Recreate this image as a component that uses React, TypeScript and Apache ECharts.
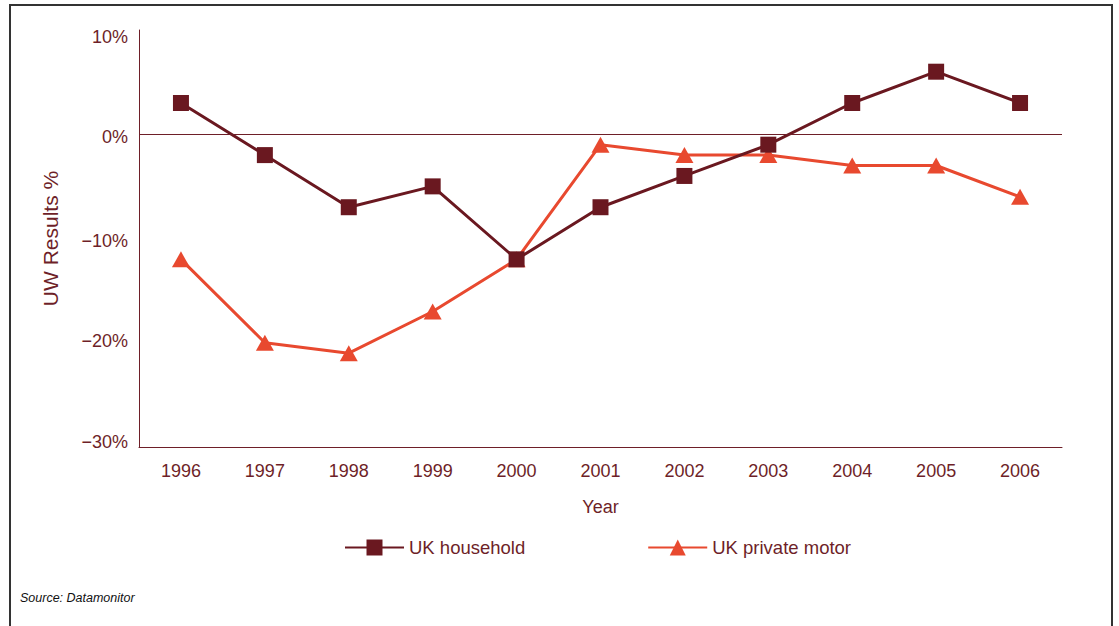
import React, { useEffect, useRef } from "react";
import * as echarts from "echarts";

// Underwriting results by year
const years = ["1996", "1997", "1998", "1999", "2000", "2001", "2002", "2003", "2004", "2005", "2006"];
const householdValues = [3, -2, -7, -5, -12, -7, -4, -1, 3, 6, 3];
const motorValues = [-12, -20, -21, -17, -12, -1, -2, -2, -3, -3, -6];
const seriesNames = ["UK household", "UK private motor"];
const yTicks = [10, 0, -10, -20, -30];

const TEXT = "#6e1f28";
const HOUSEHOLD = "#6a1820";
const MOTOR = "#e8492f";
const FONT = "Liberation Sans, Arial, Helvetica, sans-serif";

// Tick labels sit on a slightly tighter, even spacing than the ticks themselves
const labelNudge: Record<string, number[]> = {
  "10": [14, 0, 0, 0],
  "0": [6, 0, 0, 0],
  "-10": [5, 0, 0, 0],
  "-20": [0, 0, 3, 0],
  "-30": [0, 0, 11, 0],
};

const richStyles: Record<string, any> = {};
yTicks.forEach((t, i) => {
  richStyles["t" + i] = {
    color: TEXT,
    fontSize: 18,
    fontFamily: FONT,
    padding: labelNudge[String(t)],
  };
});

export default function App() {
  const ref = useRef<HTMLDivElement>(null);

  useEffect(() => {
    if (!ref.current) return;
    const chart = echarts.init(ref.current, undefined, { renderer: "svg" });
    chart.setOption({
      animation: false,
      textStyle: { fontFamily: FONT },
      grid: { left: 139, right: 57, top: 30, bottom: 179 },
      xAxis: {
        type: "category",
        data: years,
        boundaryGap: true,
        name: "Year",
        nameLocation: "middle",
        nameGap: 51,
        nameTextStyle: { color: TEXT, fontSize: 18, fontFamily: FONT },
        axisLine: { onZero: false, lineStyle: { color: TEXT, width: 1 } },
        axisTick: { show: false },
        axisLabel: { color: TEXT, fontSize: 18, margin: 15, fontFamily: FONT },
        splitLine: { show: false },
      },
      yAxis: {
        type: "value",
        min: -30,
        max: 10,
        interval: 10,
        name: "UW Results %",
        nameLocation: "middle",
        nameGap: 78,
        nameRotate: 90,
        nameTextStyle: { color: TEXT, fontSize: 21, fontFamily: FONT },
        axisLine: { show: true, lineStyle: { color: TEXT, width: 1 } },
        axisTick: { show: false },
        splitLine: { show: false },
        axisLabel: {
          color: TEXT,
          fontSize: 18,
          margin: 11,
          fontFamily: FONT,
          rich: richStyles,
          formatter: (v: number) => {
            const idx = yTicks.indexOf(v);
            const txt = (v < 0 ? "\u2212" + Math.abs(v) : String(v)) + "%";
            return idx >= 0 ? `{t${idx}|${txt}}` : txt;
          },
        },
      },
      legend: {
        data: seriesNames,
        bottom: 69,
        left: 344,
        padding: 0,
        itemWidth: 59,
        itemHeight: 20,
        itemGap: 122,
        textStyle: { color: TEXT, fontSize: 18.5, fontFamily: FONT },
      },
      graphic: [
        {
          type: "rect",
          shape: { x: 10, y: 5, width: 1102, height: 700 },
          style: { fill: "none", stroke: "#333333", lineWidth: 2 },
          silent: true,
        },
        {
          type: "text",
          left: 20,
          top: 591,
          style: {
            text: "Source: Datamonitor",
            fill: "#111111",
            font: `italic 12.5px ${FONT}`,
          },
        },
      ],
      series: [
        {
          name: seriesNames[0],
          type: "line",
          data: householdValues,
          symbol: "rect",
          symbolSize: 16,
          color: HOUSEHOLD,
          lineStyle: { color: HOUSEHOLD, width: 3 },
          itemStyle: { color: HOUSEHOLD },
          z: 3,
          markLine: {
            silent: true,
            symbol: "none",
            label: { show: false },
            lineStyle: { color: TEXT, width: 1, type: "solid" },
            data: [{ yAxis: 0 }],
          },
        },
        {
          name: seriesNames[1],
          type: "line",
          data: motorValues,
          symbol: "triangle",
          symbolSize: [18, 16],
          color: MOTOR,
          lineStyle: { color: MOTOR, width: 3 },
          itemStyle: { color: MOTOR },
          z: 2,
        },
      ],
    });
    return () => chart.dispose();
  }, []);

  return (
    <div
      ref={ref}
      style={{ position: "absolute", left: 0, top: 0, width: 1119, height: 626, background: "#ffffff" }}
    />
  );
}
